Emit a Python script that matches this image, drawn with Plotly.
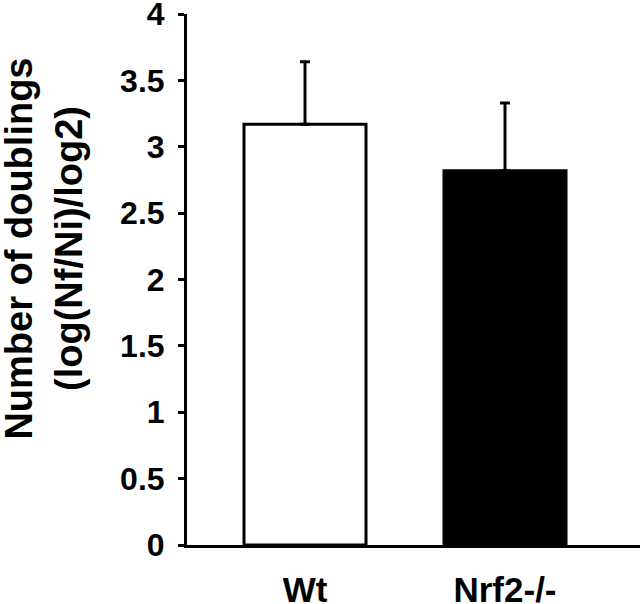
import plotly.graph_objects as go

categories = ["Wt", "Nrf2-/-"]
means = [3.17, 2.82]
errors_plus = [0.47, 0.51]
bar_colors = ["white", "black"]
y_ticks = [0, 0.5, 1, 1.5, 2, 2.5, 3, 3.5, 4]
y_tick_text = ["0", "0.5", "1", "1.5", "2", "2.5", "3", "3.5", "4"]
y_title = "Number of doublings<br>(log(Nf/Ni)/log2)"

FONT = "Liberation Sans, Arial, Helvetica, sans-serif"

fig = go.Figure()
fig.add_trace(go.Bar(
    x=categories,
    y=means,
    width=0.61,
    marker=dict(color=bar_colors, line=dict(color="black", width=3)),
    error_y=dict(type="data", symmetric=False, array=errors_plus,
                 arrayminus=[0, 0], color="black", thickness=3, width=5),
    showlegend=False,
))

fig.update_layout(
    width=640, height=604,
    margin=dict(l=187, r=0, t=14, b=59),
    paper_bgcolor="white", plot_bgcolor="white",
    font=dict(family=FONT, color="black"),
    xaxis=dict(
        range=[-0.59, 1.675],
        showline=True, linecolor="black", linewidth=3,
        ticks="", showgrid=False, zeroline=False,
        tickfont=dict(size=35, family=FONT, weight="bold"),
        ticklabelstandoff=12,
        automargin=False,
    ),
    yaxis=dict(
        range=[0, 4],
        tickvals=y_ticks, ticktext=y_tick_text,
        showline=True, linecolor="black", linewidth=3,
        ticks="outside", ticklen=6, tickwidth=3, tickcolor="black",
        showgrid=False, zeroline=False,
        tickfont=dict(size=32, family=FONT, weight="bold"),
        ticklabelstandoff=7,
        ticklabeloverflow="allow",
        automargin=False,
    ),
    annotations=[dict(
        text=y_title, textangle=-90,
        xref="paper", yref="paper", x=-0.317, y=0.559,
        xanchor="center", yanchor="middle", showarrow=False,
        font=dict(size=38, family=FONT, weight="bold", color="black"),
    )],
)

fig.write_html(
    "out.html",
    config={"displayModeBar": False},
    post_script="document.body.style.margin='0';document.body.style.overflow='hidden';",
)
